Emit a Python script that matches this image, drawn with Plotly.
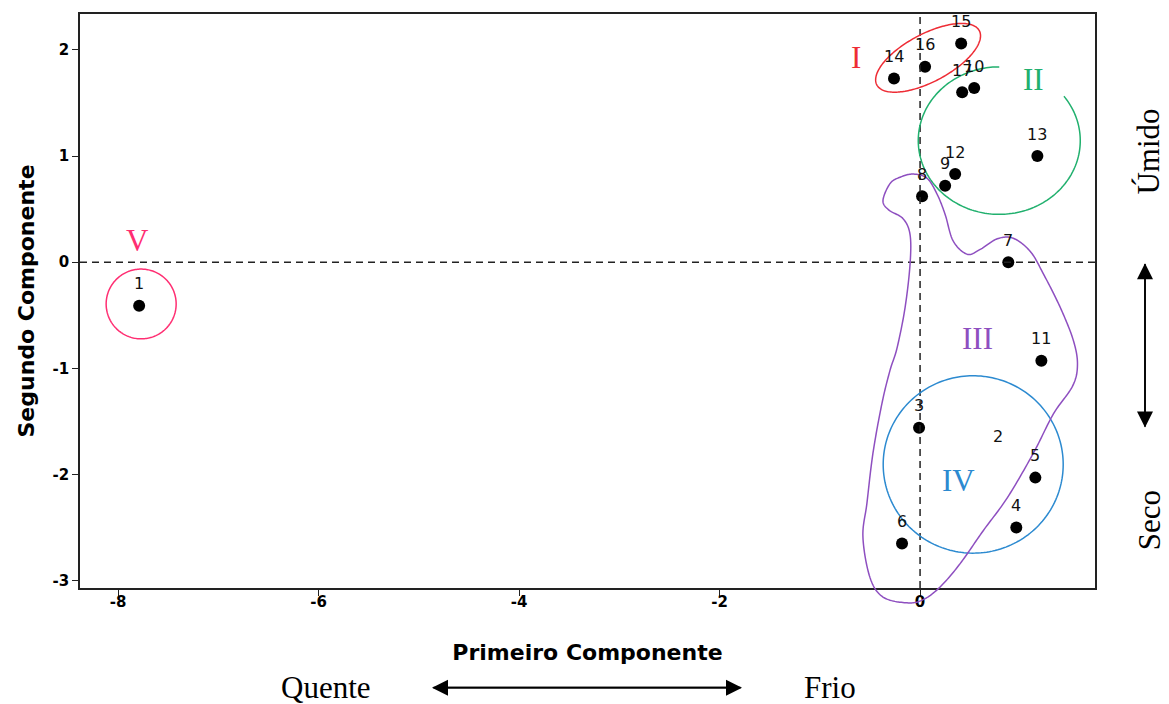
import numpy as np
import plotly.graph_objects as go

# ---- principal component scores of the 17 sites ----
site_ids = ["1", "2", "3", "4", "5", "6", "7", "8", "9", "10",
            "11", "12", "13", "14", "15", "16", "17"]
pc1 = [-7.79, 0.78, -0.01, 0.96, 1.15, -0.18, 0.88, 0.02, 0.25, 0.54,
       1.21, 0.35, 1.17, -0.26, 0.41, 0.05, 0.42]
pc2 = [-0.41, -1.85, -1.56, -2.50, -2.03, -2.65, 0.00, 0.62, 0.72, 1.64,
       -0.93, 0.83, 1.00, 1.73, 2.06, 1.84, 1.60]
# site 2 has its label printed but no marker
unmarked = ["2"]

# axis ticks
x_ticks = [-8, -6, -4, -2, 0]
y_ticks = [-3, -2, -1, 0, 1, 2]

# group labels
group_names = ["I", "II", "III", "IV", "V"]
group_label_x = [-0.64, 1.13, 0.57, 0.38, -7.81]
group_label_y = [1.93, 1.72, -0.72, -2.06, 0.20]
group_colors = ["#EE2C35", "#21B06E", "#8E4FC0", "#2C8AD0", "#FF2E72"]

# ---- layout geometry ----
W, H = 1169, 704
ML, MR, MT, MB = 80, 74, 12, 116
XR = [-8.38, 1.745]
YR = [-3.07, 2.338]
pw, ph = W - ML - MR, H - MT - MB
ppx = pw / (XR[1] - XR[0])   # pixels per x unit
ppy = ph / (YR[1] - YR[0])   # pixels per y unit


def page_to_paper(px, py):
    """Page pixel position -> plot-area paper fraction."""
    return (px - ML) / pw, (MT + ph - py) / ph


def ellipse_path(cx, cy, rx_px, ry_px, angle_deg=0.0, t0=0.0, t1=360.0, closed=True):
    t = np.radians(np.linspace(t0, t1, 200))
    a = np.radians(angle_deg)
    ux, uy = rx_px * np.cos(t), ry_px * np.sin(t)
    dx = ux * np.cos(a) - uy * np.sin(a)
    dy = ux * np.sin(a) + uy * np.cos(a)
    xs, ys = cx + dx / ppx, cy + dy / ppy
    d = "M " + " L ".join(f"{x:.4f},{y:.4f}" for x, y in zip(xs, ys))
    return d + (" Z" if closed else "")


def catmull_closed(pts, n=16):
    p = np.asarray(pts, float)
    out = []
    m = len(p)
    for i in range(m):
        p0, p1, p2, p3 = p[i - 1], p[i], p[(i + 1) % m], p[(i + 2) % m]
        for s in np.linspace(0, 1, n, endpoint=False):
            s2, s3 = s * s, s * s * s
            out.append(0.5 * ((2 * p1) + (-p0 + p2) * s +
                              (2 * p0 - 5 * p1 + 4 * p2 - p3) * s2 +
                              (-p0 + 3 * p1 - 3 * p2 + p3) * s3))
    return np.array(out)


# outline of group III (data units)
blob_iii = [
    (-0.37, 0.58), (-0.30, 0.74), (-0.20, 0.80), (-0.07, 0.83), (0.07, 0.79),
    (0.17, 0.64), (0.25, 0.45), (0.33, 0.20), (0.47, 0.075), (0.60, 0.12),
    (0.77, 0.22), (0.93, 0.225), (1.10, 0.10), (1.23, -0.11), (1.40, -0.43),
    (1.53, -0.74), (1.57, -0.97), (1.52, -1.17), (1.33, -1.43), (1.13, -1.80),
    (0.87, -2.22), (0.63, -2.53), (0.40, -2.84), (0.20, -3.06), (0.03, -3.18),
    (-0.13, -3.21), (-0.37, -3.155), (-0.50, -2.97), (-0.57, -2.59),
    (-0.53, -2.27), (-0.47, -1.80), (-0.38, -1.33), (-0.30, -1.02),
    (-0.23, -0.81), (-0.15, -0.43), (-0.10, -0.02), (-0.10, 0.26),
    (-0.17, 0.41), (-0.31, 0.49),
]

fig = go.Figure()

# reference dashed lines through the origin
fig.add_shape(type="line", xref="x", yref="y", x0=XR[0], x1=XR[1], y0=0, y1=0,
              line=dict(color="#222", width=1.5, dash="7px,5px"))
fig.add_shape(type="line", xref="x", yref="y", x0=0, x1=0, y0=YR[0], y1=YR[1],
              line=dict(color="#222", width=1.5, dash="7px,5px"))

# group I: tilted ellipse
fig.add_shape(type="path", xref="x", yref="y",
              path=ellipse_path(0.08, 1.925, 58, 24, 28),
              line=dict(color=group_colors[0], width=1.5))
# group II: open ellipse arc
fig.add_shape(type="path", xref="x", yref="y",
              path=ellipse_path(0.79, 1.145, 81, 74, 0, 90, 397, closed=False),
              line=dict(color=group_colors[1], width=1.5))
# group IV
fig.add_shape(type="path", xref="x", yref="y",
              path=ellipse_path(0.53, -1.906, 90, 89),
              line=dict(color=group_colors[3], width=1.5))
# group V
fig.add_shape(type="path", xref="x", yref="y",
              path=ellipse_path(-7.77, -0.394, 35, 35),
              line=dict(color=group_colors[4], width=1.5))
# group III: free outline, drawn in paper units so it can run past the frame
curve = catmull_closed(blob_iii)
px_ = (curve[:, 0] - XR[0]) / (XR[1] - XR[0])
py_ = (curve[:, 1] - YR[0]) / (YR[1] - YR[0])
fig.add_shape(type="path", xref="paper", yref="paper",
              path="M " + " L ".join(f"{a:.5f},{b:.5f}" for a, b in zip(px_, py_)) + " Z",
              line=dict(color=group_colors[2], width=1.5))

# site markers
shown = [i for i, s in enumerate(site_ids) if s not in unmarked]
fig.add_trace(go.Scatter(
    x=[pc1[i] for i in shown], y=[pc2[i] for i in shown], mode="markers",
    marker=dict(color="black", size=12, line=dict(width=0)),
    hoverinfo="skip", showlegend=False))

annotations = []
for s, x, y in zip(site_ids, pc1, pc2):
    annotations.append(dict(x=x, y=y, xref="x", yref="y", text=s, showarrow=False,
                            yshift=22, font=dict(family="DejaVu Sans", size=16, color="#111")))
for name, x, y, c in zip(group_names, group_label_x, group_label_y, group_colors):
    annotations.append(dict(x=x, y=y, xref="x", yref="y", text=name, showarrow=False,
                            font=dict(family="Liberation Serif", size=31, color=c)))

# climate gradient captions
serif = dict(family="Liberation Serif", size=31, color="black")
for text, cx, cy, ang in [("Quente", 326, 688, 0), ("Frio", 830, 688, 0),
                          ("Úmido", 1149, 150, -90), ("Seco", 1149, 520, -90)]:
    ax_, ay_ = page_to_paper(cx, cy)
    annotations.append(dict(x=ax_, y=ay_, xref="paper", yref="paper", text=text,
                            xanchor="center", yanchor="middle",
                            showarrow=False, textangle=ang, font=serif))
# double-headed arrows: (tip x, tip y, tail x, tail y) in page pixels
for (xa, ya, xb, yb) in [(432, 688, 742, 688), (742, 688, 432, 688),
                         (1145, 262, 1145, 427), (1145, 427, 1145, 262)]:
    tx, ty = page_to_paper(xa, ya)
    annotations.append(dict(x=tx, y=ty, ax=xb - xa, ay=yb - ya,
                            xref="paper", yref="paper", axref="pixel", ayref="pixel",
                            text="", showarrow=True, arrowhead=2, arrowsize=2,
                            arrowwidth=1.6, arrowcolor="black"))

axis_common = dict(showline=True, linecolor="#222", linewidth=1.5, mirror=True,
                   ticks="outside", ticklen=6, tickwidth=1.3, tickcolor="#222",
                   showgrid=False, zeroline=False,
                   tickfont=dict(family="DejaVu Sans", size=15, color="black", weight="bold"))

title_font = dict(family="DejaVu Sans", size=22, color="black", weight="bold")
fig.update_layout(
    width=W, height=H, margin=dict(l=ML, r=MR, t=MT, b=MB),
    paper_bgcolor="white", plot_bgcolor="white",
    xaxis=dict(range=XR, tickvals=x_ticks, ticktext=[str(v) for v in x_ticks],
               ticklabelstandoff=-7,
               title=dict(text="Primeiro Componente", standoff=35, font=title_font),
               **axis_common),
    yaxis=dict(range=YR, tickvals=y_ticks, ticktext=[str(v) for v in y_ticks],
               title=dict(text="Segundo Componente", standoff=12, font=title_font),
               **axis_common),
    annotations=annotations,
)

fig.write_html("out.html")
